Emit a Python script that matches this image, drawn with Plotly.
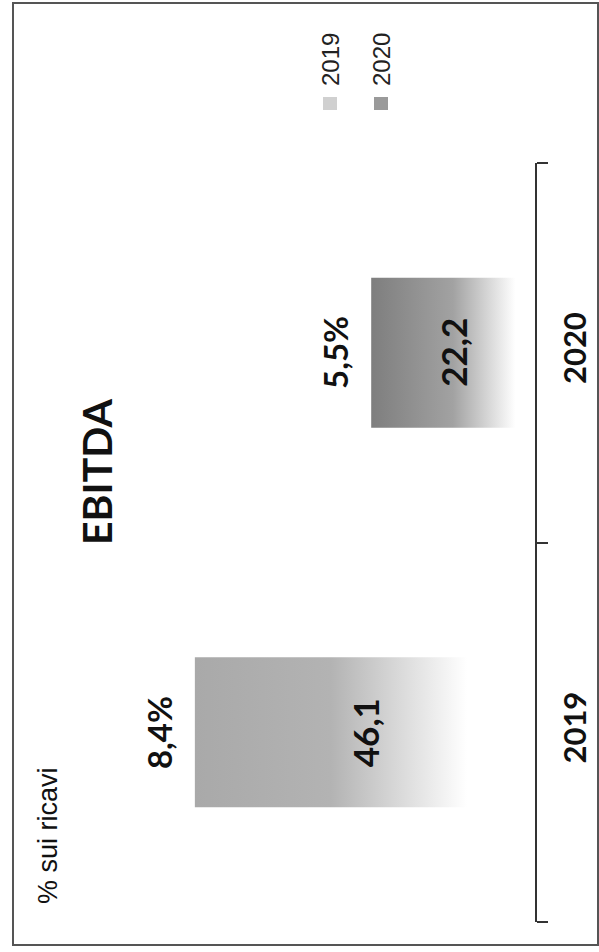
import plotly.graph_objects as go

# ---- data ----
years = ["2019", "2020"]
ebitda = [46.1, 22.2]
ebitda_labels = ["46,1", "22,2"]
margin_pct = ["8,4%", "5,5%"]
title = "EBITDA"
subtitle = "% sui ricavi"

# ---- layout geometry (pixels) ----
W, H = 599, 952
ML, MR, MT, MB = 20, 64, 163, 30
PW = W - ML - MR
PH = H - MT - MB
XMAX = 69.8
BAR_W = 0.395

def pxx(x):
    return (x - ML) / PW

def pxy(y):
    return (H - MB - y) / PH

# colorscale runs from the far (left) end of the bar to the axis (right)
gradients = [
    [[0, "#a9a9a9"], [0.4, "#b3b3b3"], [0.8, "#ffffff"], [1, "#ffffff"]],
    [[0, "#7e7e7e"], [0.5, "#a2a2a2"], [0.88, "#ffffff"], [1, "#ffffff"]],
]

fig = go.Figure()
for i, (yr, v) in enumerate(zip(years, ebitda)):
    fig.add_trace(go.Scatter(
        x=[0, v, v, 0, 0],
        y=[i - BAR_W / 2, i - BAR_W / 2, i + BAR_W / 2, i + BAR_W / 2, i - BAR_W / 2],
        mode="lines", fill="toself", line=dict(width=0),
        fillgradient=dict(type="horizontal", colorscale=gradients[i]),
        name=yr, showlegend=False, hoverinfo="skip",
    ))
    # value inside bar
    fig.add_annotation(x=v / 2, y=i, xref="x", yref="y", text=ebitda_labels[i],
                       textangle=-90, showarrow=False, xanchor="center", yanchor="middle",
                       font=dict(family="Lato", size=35, color="#111111", weight="bold"))
    # % sui ricavi label
    fig.add_annotation(x=v, y=i, xref="x", yref="y", text=margin_pct[i],
                       textangle=-90, showarrow=False, xshift=-36,
                       xanchor="center", yanchor="middle",
                       font=dict(family="Lato", size=33, color="#111111", weight="bold"))

# title and subtitle
fig.add_annotation(x=pxx(96), y=pxy(472), xref="paper", yref="paper", text=title,
                   textangle=-90, showarrow=False, xanchor="center", yanchor="middle",
                   font=dict(family="Lato", size=41, color="#111111", weight="bold"))
fig.add_annotation(x=pxx(48), y=pxy(836), xref="paper", yref="paper", text=subtitle,
                   textangle=-90, showarrow=False, xanchor="center", yanchor="middle",
                   font=dict(family="Liberation Sans", size=27, color="#111111"))

# legend
legend_cols = ["#d0d0d0", "#9a9a9a"]
for j, (yr, cx) in enumerate(zip(years, [330, 381])):
    fig.add_annotation(x=pxx(cx), y=pxy(60), xref="paper", yref="paper", text=yr,
                       textangle=-90, showarrow=False, xanchor="center", yanchor="middle",
                       font=dict(family="Liberation Sans", size=24, color="#222222"))
    fig.add_shape(type="rect", xref="paper", yref="paper",
                  x0=pxx(cx - 7), x1=pxx(cx + 7), y0=pxy(110), y1=pxy(97),
                  line=dict(width=0), fillcolor=legend_cols[j])

# frame
fig.add_shape(type="rect", xref="paper", yref="paper",
              x0=pxx(13), x1=pxx(598), y0=pxy(945), y1=pxy(3),
              line=dict(color="#555555", width=2), fillcolor="rgba(0,0,0,0)", layer="below")

fig.update_layout(
    width=W, height=H, autosize=False,
    margin=dict(l=ML, r=MR, t=MT, b=MB, pad=0, autoexpand=False),
    paper_bgcolor="white", plot_bgcolor="white",
    showlegend=False,
    xaxis=dict(range=[XMAX, 0], visible=False, showgrid=False, zeroline=False,
               automargin=False),
    yaxis=dict(range=[-0.5, 1.5], side="right", showgrid=False, zeroline=False,
               automargin=False,
               tickmode="array", tickvals=[0, 1], ticktext=years, tickangle=-90,
               ticks="", showline=True, linecolor="#333333", linewidth=2,
               ticklabelstandoff=12,
               tickfont=dict(family="Lato", size=31, color="#111111", weight="bold"),
               minor=dict(tickmode="array", tickvals=[-0.5, 0.5, 1.5], ticks="outside",
                          ticklen=11, tickwidth=2, tickcolor="#333333")),
)

fig.write_html(
    "out.html",
    config={"displayModeBar": False, "responsive": False},
    post_script=("document.body.style.margin='0';"
                 "document.body.style.overflow='hidden';"
                 "document.documentElement.style.overflow='hidden';"),
)
